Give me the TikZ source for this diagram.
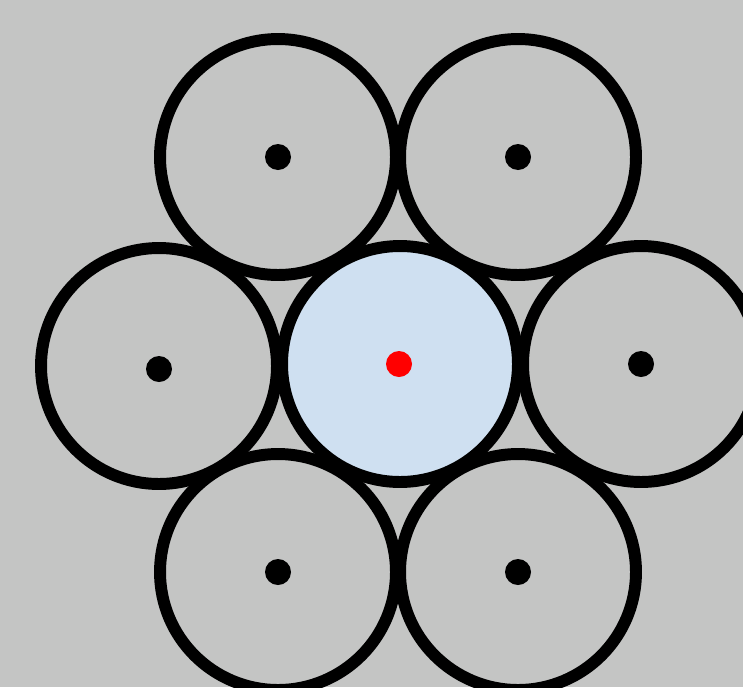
\documentclass[tikz,border=0pt]{standalone}
\usepackage{tikz}
\usetikzlibrary{positioning}
\definecolor{bggray}{RGB}{196,197,196}
\definecolor{cellblue}{RGB}{207,224,241}

\begin{document}
\begin{tikzpicture}[x=0.02cm, y=-0.02cm,
      cell/.style={draw=black, circle, line width=6.8pt, minimum size=4.72cm, inner sep=0pt, fill=bggray},
      centercell/.style={cell, fill=cellblue},
      site/.style={circle, fill=black, minimum size=0.52cm, inner sep=0pt},
      centersite/.style={site, fill=red}
    ]
    \fill[bggray] (0,0) rectangle (743,687);
    \useasboundingbox (0,0) rectangle (743,687);

    % neighbours
    \node[cell] (nw) at (278,157) {};
    \node[cell] (ne) at (518,157) {};
    \node[cell] (w) at (159,366) {};
    \node[cell] (e) at (641,364) {};
    \node[cell] (sw) at (278,572) {};
    \node[cell] (se) at (518,572) {};
    % central cell
    \node[centercell] (c) at (400,364) {};

    \node[site] (nwdot) at (278,157) {};
    \node[site] (nedot) at (518,157) {};
    \node[site] (wdot) at (159,369) {};
    \node[site] (edot) at (641,364) {};
    \node[site] (swdot) at (278,572) {};
    \node[site] (sedot) at (518,572) {};
    \node[centersite] (cdot) at (399,364) {};
  \end{tikzpicture}
\end{document}
